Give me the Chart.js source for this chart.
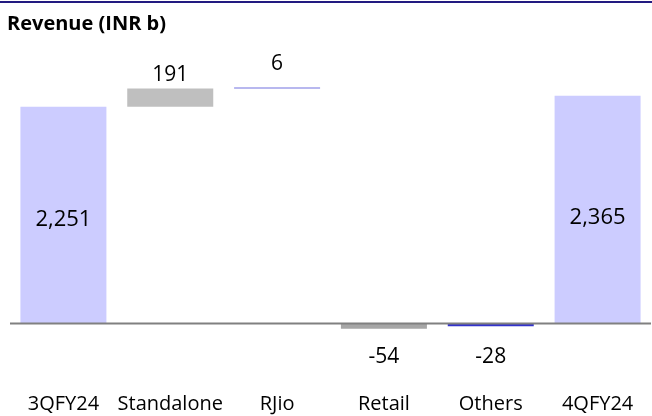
<!DOCTYPE html>
<html>
<head>
<meta charset="utf-8">
<script src="https://cdn.jsdelivr.net/npm/chart.js@4.4.1/dist/chart.umd.min.js"></script>
<style>
  html, body { margin: 0; padding: 0; background: #ffffff; }
  #wrap { width: 652px; height: 416px; position: relative; }
</style>
</head>
<body>
<div id="wrap"><canvas id="chart" width="652" height="416"></canvas></div>
<script>
// Revenue bridge, INR billion
const categories = ['3QFY24', 'Standalone', 'RJio', 'Retail', 'Others', '4QFY24'];
const changes = [2251, 191, 6, -54, -28, 2365];
const isTotal = [true, false, false, false, false, true];
const barColors = ['#CCCCFF', '#BFBFBF', '#7373E0', '#A6A6A6', '#3333CC', '#CCCCFF'];
const yMin = -400;
const yMax = 2800;

// Hidden base under each step, stacked the way a spreadsheet waterfall is built
// (negative steps stack on the negative side, so they hang from zero).
const baseValues = [];
let running = 0;
changes.forEach((v, i) => {
  if (isTotal[i]) { baseValues.push(0); running = v; }
  else { baseValues.push(v >= 0 ? running : running + v); running += v; }
});

const FONT = '"Open Sans", "DejaVu Sans", sans-serif';
const fmt = v => v.toLocaleString('en-US');

const decorations = {
  id: 'decorations',
  afterDatasetsDraw(chart, args, opts) {
    const { ctx, chartArea } = chart;
    const y = chart.scales.y;
    const zero = y.getPixelForValue(0);
    ctx.save();
    // zero line
    ctx.fillStyle = '#808080';
    ctx.fillRect(chartArea.left, zero - 1, chartArea.right - chartArea.left, 2);
    // value labels
    ctx.fillStyle = '#000000';
    ctx.textAlign = 'center';
    ctx.textBaseline = 'middle';
    const meta = chart.getDatasetMeta(1);
    meta.data.forEach((bar, i) => {
      const v = changes[i];
      const top = Math.min(bar.y, bar.base);
      const bottom = Math.max(bar.y, bar.base);
      let ly;
      if (isTotal[i]) {
        ctx.font = '22px ' + FONT;
        ly = (top + bottom) / 2 + opts.gaps[i];
      } else {
        ctx.font = '21px ' + FONT;
        ly = v >= 0 ? top - opts.gaps[i] : bottom + opts.gaps[i];
      }
      ctx.fillText(fmt(v), bar.x, ly);
    });
    ctx.restore();
  },
  afterDraw(chart) {
    const { ctx } = chart;
    ctx.save();
    ctx.fillStyle = '#221a80';
    ctx.fillRect(0, 1, chart.width, 2);
    ctx.fillStyle = '#000000';
    ctx.font = 'bold 20px ' + FONT;
    ctx.textAlign = 'left';
    ctx.textBaseline = 'alphabetic';
    ctx.fillText('Revenue (INR b)', 7, 30);
    ctx.restore();
  }
};

new Chart(document.getElementById('chart'), {
  type: 'bar',
  data: {
    labels: categories,
    datasets: [
      {
        label: 'base',
        data: baseValues,
        backgroundColor: 'rgba(0,0,0,0)',
        borderWidth: 0,
        categoryPercentage: 1,
        barPercentage: 0.805
      },
      {
        label: 'Revenue',
        data: changes,
        backgroundColor: barColors,
        borderWidth: 0,
        minBarLength: 1,
        categoryPercentage: 1,
        barPercentage: 0.805
      }
    ]
  },
  options: {
    responsive: false,
    animation: false,
    layout: { padding: { left: 10, right: 1, top: 54, bottom: 0 } },
    plugins: {
      legend: { display: false },
      title: { display: false },
      tooltip: { enabled: false },
      decorations: { gaps: [5, 13, 23, 28, 31, 8] }
    },
    scales: {
      x: {
        stacked: true,
        grid: { display: false, drawTicks: false },
        border: { display: false },
        ticks: {
          color: '#000000',
          font: { family: FONT, size: 20 },
          padding: 30,
          maxRotation: 0,
          minRotation: 0,
          autoSkip: false
        },
        afterFit(scale) {
          scale.height = 54;
          scale.paddingLeft = 0;
          scale.paddingRight = 0;
        }
      },
      y: {
        stacked: true,
        display: false,
        min: yMin,
        max: yMax
      }
    }
  },
  plugins: [decorations]
});
</script>
</body>
</html>
